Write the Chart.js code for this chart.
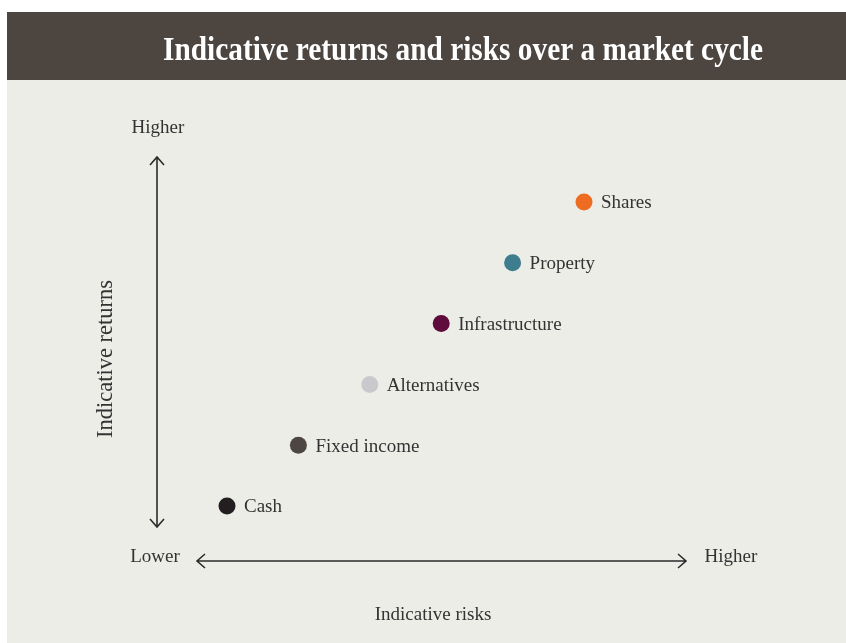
<!DOCTYPE html>
<html>
<head>
  <meta charset="utf-8">
  <title>Indicative returns and risks over a market cycle</title>
  <script src="https://cdn.jsdelivr.net/npm/chart.js"></script>
  <style>
    html, body { margin: 0; padding: 0; background: #fff; }
    .wrap { width: 846px; height: 643px; position: relative; }
  </style>
</head>
<body>
<div class="wrap">
  <canvas id="chart" width="846" height="643"></canvas>
</div>

<script>
  // asset classes, ranked by risk (x) and return (y)
  const assets  = ['Cash', 'Fixed income', 'Alternatives', 'Infrastructure', 'Property', 'Shares'];
  const risks   = [1, 2, 3, 4, 5, 6];
  const returns = [1, 2, 3, 4, 5, 6];
  const colours = ['#231f20', '#4d4641', '#c9c9cd', '#5f0b3c', '#3d7d8e', '#ee6b22'];

  const title = 'Indicative returns and risks over a market cycle';
  const xTitle = 'Indicative risks';
  const yTitle = 'Indicative returns';
  const lowLabel = 'Lower';
  const highLabel = 'Higher';

  const bodyFont = '"Liberation Serif", serif';
  const ink = '#333333';

  // background panel, header band, arrows and all texts
  const decor = {
    id: 'decor',
    beforeDraw(chart) {
      const ctx = chart.ctx;
      ctx.save();
      ctx.fillStyle = '#ffffff';
      ctx.fillRect(0, 0, chart.width, chart.height);
      ctx.fillStyle = '#edede8';
      ctx.fillRect(7, 12, chart.width - 7, chart.height - 12);
      ctx.fillStyle = '#4c4540';
      ctx.fillRect(7, 12, chart.width - 7, 68);

      ctx.fillStyle = '#ffffff';
      ctx.font = 'bold 34px "Liberation Serif", serif';
      ctx.textAlign = 'center';
      ctx.textBaseline = 'alphabetic';
      ctx.fillText(title, 463, 60, 600);

      // arrows
      ctx.strokeStyle = '#2b2b2b';
      ctx.lineWidth = 1.6;
      ctx.beginPath();
      ctx.moveTo(157, 157); ctx.lineTo(157, 527);
      ctx.moveTo(150, 165); ctx.lineTo(157, 157); ctx.lineTo(164, 165);
      ctx.moveTo(150, 519); ctx.lineTo(157, 527); ctx.lineTo(164, 519);
      ctx.moveTo(197, 561); ctx.lineTo(686, 561);
      ctx.moveTo(205, 554); ctx.lineTo(197, 561); ctx.lineTo(205, 568);
      ctx.moveTo(678, 554); ctx.lineTo(686, 561); ctx.lineTo(678, 568);
      ctx.stroke();

      ctx.fillStyle = ink;
      ctx.font = '19px ' + bodyFont;
      ctx.textBaseline = 'middle';
      ctx.textAlign = 'center';
      ctx.fillText(highLabel, 158, 128);
      ctx.fillText(lowLabel, 155, 557);
      ctx.fillText(highLabel, 731, 557);
      ctx.fillText(xTitle, 433, 615);
      ctx.font = '22.5px ' + bodyFont;
      ctx.translate(106, 359);
      ctx.rotate(-Math.PI / 2);
      ctx.fillText(yTitle, 0, 0);
      ctx.restore();
    },
    afterDatasetsDraw(chart) {
      const ctx = chart.ctx;
      const meta = chart.getDatasetMeta(0);
      ctx.save();
      ctx.fillStyle = ink;
      ctx.font = '19px ' + bodyFont;
      ctx.textAlign = 'left';
      ctx.textBaseline = 'middle';
      meta.data.forEach((pt, i) => {
        ctx.fillText(assets[i], pt.x + 17, pt.y + 1.5);
      });
      ctx.restore();
    }
  };

  new Chart(document.getElementById('chart').getContext('2d'), {
    type: 'scatter',
    data: {
      labels: assets,
      datasets: [{
        data: risks.map((r, i) => ({ x: r, y: returns[i] })),
        backgroundColor: colours,
        borderWidth: 0,
        pointRadius: 8.5,
        pointHoverRadius: 8.5
      }]
    },
    options: {
      responsive: false,
      animation: false,
      layout: { padding: { left: 155.6, right: 119.2, top: 141.2, bottom: 76.2 } },
      plugins: { legend: { display: false }, tooltip: { enabled: false } },
      scales: {
        x: { type: 'linear', min: 0, max: 8, display: false },
        y: { type: 'linear', min: 0, max: 7, display: false }
      }
    },
    plugins: [decor]
  });
</script>
</body>
</html>
